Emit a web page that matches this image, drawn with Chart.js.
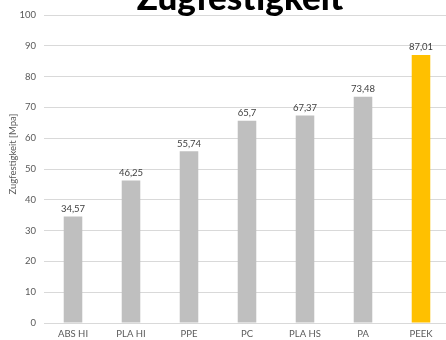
<!DOCTYPE html>
<html>
<head>
<meta charset="utf-8">
<script src="https://cdn.jsdelivr.net/npm/chart.js@4/dist/chart.umd.min.js"></script>
<style>
  html, body { margin: 0; padding: 0; background: #fff; overflow: hidden; }
  #wrap { position: relative; width: 450px; height: 340px; }
</style>
</head>
<body>
<div id="wrap"><canvas id="chart"></canvas></div>
<script>
const categories = ['ABS HI', 'PLA HI', 'PPE', 'PC', 'PLA HS', 'PA', 'PEEK'];
const strengthValues = [34.57, 46.25, 55.74, 65.7, 67.37, 73.48, 87.01];
const barColors = ['#BFBFBF', '#BFBFBF', '#BFBFBF', '#BFBFBF', '#BFBFBF', '#BFBFBF', '#FFC000'];
const chartTitle = 'Zugfestigkeit';
const axisTitle = 'Zugfestigkeit [Mpa]';

const fontFamily = 'Lato, "Open Sans", sans-serif';

// value labels above each bar, german decimal comma
const valueLabels = {
  id: 'valueLabels',
  afterDatasetsDraw(chart) {
    const ctx = chart.ctx;
    const meta = chart.getDatasetMeta(0);
    ctx.save();
    ctx.font = '9.5px ' + fontFamily;
    ctx.fillStyle = '#404040';
    ctx.textAlign = 'center';
    ctx.textBaseline = 'bottom';
    meta.data.forEach((bar, i) => {
      const txt = String(strengthValues[i]).replace('.', ',');
      ctx.fillText(txt, bar.x, bar.y - 3);
    });
    ctx.restore();
  }
};

// big title (partly cut off at the top) and the y axis title
const titles = {
  id: 'titles',
  afterDraw(chart) {
    const ctx = chart.ctx;
    ctx.save();
    ctx.font = '900 35px ' + fontFamily;
    ctx.fillStyle = '#000';
    ctx.textAlign = 'center';
    ctx.textBaseline = 'alphabetic';
    ctx.fillText(chartTitle, 240, 10);

    ctx.translate(13, 154);
    ctx.rotate(-Math.PI / 2);
    ctx.font = '9.5px ' + fontFamily;
    ctx.fillStyle = '#595959';
    ctx.textBaseline = 'middle';
    ctx.fillText(axisTitle, 0, 0);
    ctx.restore();
  }
};

new Chart(document.getElementById('chart'), {
  type: 'bar',
  data: {
    labels: categories,
    datasets: [{
      data: strengthValues,
      backgroundColor: barColors,
      barPercentage: 0.64,
      categoryPercentage: 0.5
    }]
  },
  options: {
    responsive: true,
    maintainAspectRatio: false,
    animation: false,
    layout: { padding: { top: 15, right: 0, bottom: 0, left: 0 } },
    plugins: {
      legend: { display: false },
      tooltip: { enabled: false }
    },
    scales: {
      x: {
        grid: { display: false, drawTicks: false },
        border: { display: false },
        ticks: { color: '#595959', font: { family: fontFamily, size: 9.5 }, padding: 5 },
        afterFit(scale) { scale.height = 17; }
      },
      y: {
        min: 0,
        max: 100,
        ticks: { stepSize: 10, color: '#595959', font: { family: fontFamily, size: 9.5 }, padding: 8 },
        grid: { color: '#D9D9D9', drawTicks: false },
        border: { display: false },
        afterFit(scale) { scale.width = 44; }
      }
    }
  },
  plugins: [valueLabels, titles]
});
</script>
</body>
</html>
